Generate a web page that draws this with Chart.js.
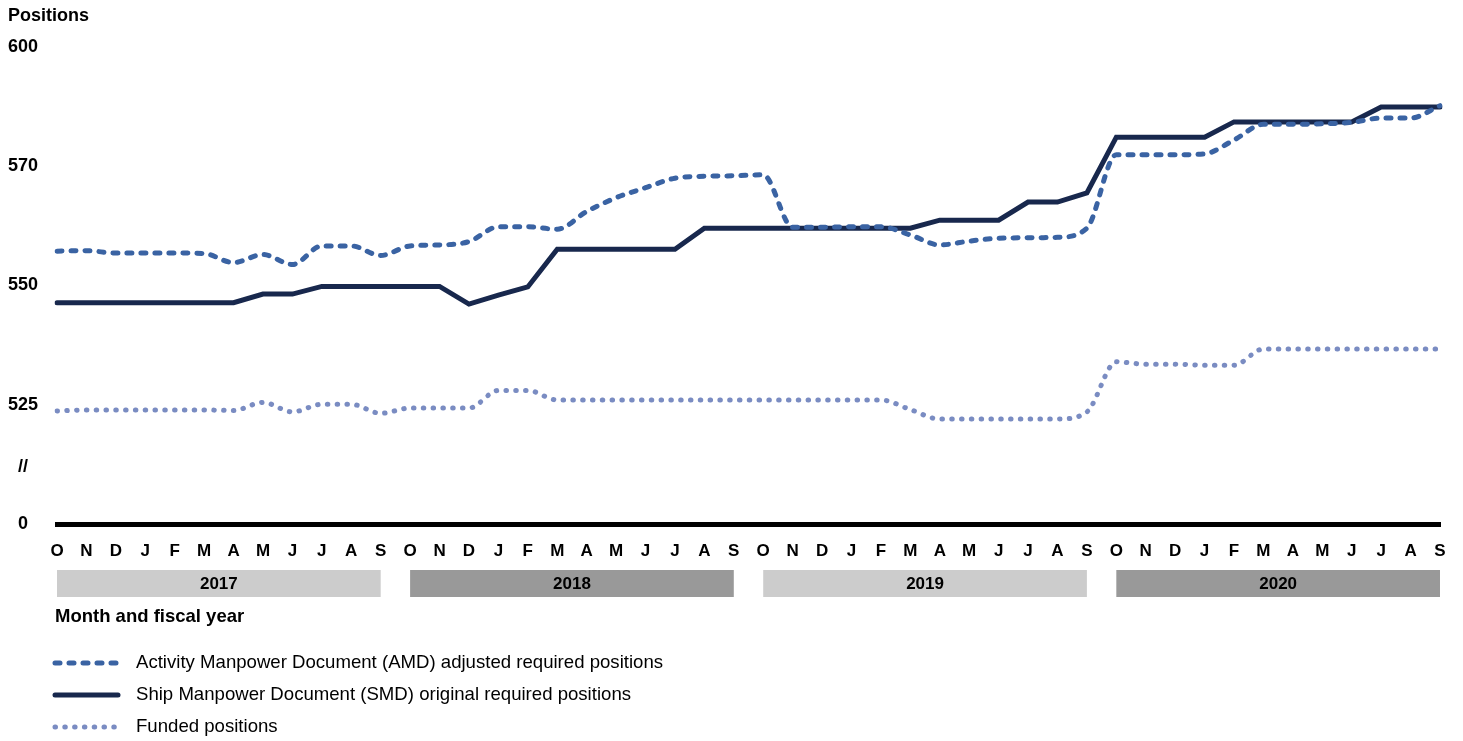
<!DOCTYPE html>
<html>
<head>
<meta charset="utf-8">
<script src="https://cdn.jsdelivr.net/npm/chart.js@4.4.1/dist/chart.umd.min.js"></script>
<style>
    body { margin: 0; background: #ffffff; }
    #wrap { width: 1463px; height: 741px; }
</style>
</head>
<body>
<div id="wrap"><canvas id="lineChart" width="1463" height="741"></canvas></div>
<script>

// months of each fiscal year, Oct to Sep
const months = ["O","N","D","J","F","M","A","M","J","J","A","S"];
const years = ["2017", "2018", "2019", "2020"];

const monthLabels = [];
years.forEach(function () {
    months.forEach(m => monthLabels.push(m));
});

// Activity Manpower Document (AMD) adjusted required positions
const amdValues = [
    557.2, 557.3, 556.8, 556.8, 556.8, 556.7, 554.8, 556.5, 554.4, 558.3, 558.3, 556.3,
    558.3, 558.5, 559.2, 562.3, 562.3, 561.8, 565.5, 568.4, 570.5, 572.5, 572.9, 573.0,
    573.2, 562.2, 562.2, 562.3, 562.3, 560.6, 558.5, 559.3, 559.9, 560.0, 560.1, 562.0,
    577.4, 577.4, 577.4, 577.6, 580.5, 583.8, 583.8, 583.9, 584.2, 585.1, 585.1, 587.7
];

// Ship Manpower Document (SMD) original required positions
const smdValues = [
    546.4, 546.4, 546.4, 546.4, 546.4, 546.4, 546.4, 548.2, 548.2, 549.8, 549.8, 549.8,
    549.8, 549.8, 546.1, 548.0, 549.7, 557.6, 557.6, 557.6, 557.6, 557.6, 562.0, 562.0,
    562.0, 562.0, 562.0, 562.0, 562.0, 562.0, 563.7, 563.7, 563.7, 567.5, 567.5, 569.4,
    581.1, 581.1, 581.1, 581.1, 584.3, 584.3, 584.3, 584.3, 584.3, 587.4, 587.4, 587.4
];

// Funded positions
const fundedValues = [
    523.7, 523.9, 523.9, 523.9, 523.9, 523.9, 523.8, 525.5, 523.5, 525.1, 525.1, 523.2,
    524.3, 524.3, 524.3, 528.0, 528.0, 526.0, 526.0, 526.0, 526.0, 526.0, 526.0, 526.0,
    526.0, 526.0, 526.0, 526.0, 526.0, 524.0, 522.0, 522.0, 522.0, 522.0, 522.0, 523.5,
    534.0, 533.5, 533.5, 533.3, 533.3, 536.7, 536.7, 536.7, 536.7, 536.7, 536.7, 536.7
];

// the axis is broken: the bottom tick stands for 0
const yTickValues = [500, 512, 525, 550, 575, 600];
const yTickLabels = ["0", "//", "525", "550", "570", "600"];

const seriesNames = [
    "Activity Manpower Document (AMD) adjusted required positions",
    "Ship Manpower Document (SMD) original required positions",
    "Funded positions"
];

const FONT = "'Liberation Sans', Arial, sans-serif";

// ==========================
// extra drawing: title, year boxes, axis caption, legend
// ==========================
const extrasPlugin = {
    id: "extras",
    afterDraw: function (chart) {
        const ctx = chart.ctx;
        const x = chart.scales.x;

        ctx.save();
        ctx.fillStyle = "#000";
        ctx.textBaseline = "middle";
        ctx.textAlign = "left";
        ctx.font = "bold 18px " + FONT;
        ctx.fillText("Positions", 8, 16);

        // fiscal year boxes
        years.forEach(function (yr, k) {
            const x1 = x.getPixelForValue(k * 12);
            const x2 = x.getPixelForValue(k * 12 + 11);
            ctx.fillStyle = k % 2 === 0 ? "#cccccc" : "#999999";
            ctx.fillRect(x1, 570, x2 - x1, 27);
            ctx.fillStyle = "#000";
            ctx.textAlign = "center";
            ctx.font = "bold 17px " + FONT;
            ctx.fillText(yr, (x1 + x2) / 2, 584);
        });

        ctx.textAlign = "left";
        ctx.font = "bold 18.5px " + FONT;
        ctx.fillText("Month and fiscal year", 55, 617);

        // legend
        chart.data.datasets.forEach(function (ds, i) {
            const y = 663 + i * 32;
            ctx.beginPath();
            ctx.strokeStyle = ds.borderColor;
            ctx.lineWidth = ds.borderWidth;
            ctx.lineCap = "round";
            ctx.setLineDash(ds.borderDash || []);
            ctx.moveTo(55, y);
            ctx.lineTo(118, y);
            ctx.stroke();
            ctx.setLineDash([]);
            ctx.fillStyle = "#000";
            ctx.font = "18.6px " + FONT;
            ctx.fillText(ds.label, 136, y);
        });
        ctx.restore();
    }
};

new Chart(document.getElementById("lineChart"), {

    type: "line",

    data: {
        labels: monthLabels,
        datasets: [
            {
                label: seriesNames[0],
                data: amdValues,
                borderColor: "#3a63a3",
                borderWidth: 5,
                borderDash: [5, 9],
                borderCapStyle: "round",
                cubicInterpolationMode: "monotone",
                pointRadius: 0
            },
            {
                label: seriesNames[1],
                data: smdValues,
                borderColor: "#18284d",
                borderWidth: 5,
                borderCapStyle: "round",
                borderJoinStyle: "miter",
                tension: 0,
                pointRadius: 0
            },
            {
                label: seriesNames[2],
                data: fundedValues,
                borderColor: "#7a8cc2",
                borderWidth: 5,
                borderDash: [0.5, 9.3],
                borderCapStyle: "round",
                cubicInterpolationMode: "monotone",
                pointRadius: 0
            }
        ]
    },

    options: {
        responsive: false,
        animation: false,
        layout: {
            padding: { left: 0, right: 23, top: 47, bottom: 0 }
        },
        scales: {
            x: {
                grid: { display: false, drawTicks: false },
                border: { display: true, color: "#000", width: 5 },
                ticks: {
                    color: "#000",
                    autoSkip: false,
                    maxRotation: 0,
                    padding: 17,
                    font: { family: FONT, size: 17, weight: "bold" }
                },
                afterFit: function (scale) {
                    scale.height = 217;
                }
            },
            y: {
                min: 500,
                max: 600,
                grid: { display: false, drawTicks: false },
                border: { display: false },
                afterBuildTicks: function (scale) {
                    scale.ticks = yTickValues.map(v => ({ value: v }));
                },
                ticks: {
                    color: "#000",
                    padding: 19,
                    crossAlign: "center",
                    font: { family: FONT, size: 18, weight: "bold" },
                    callback: function (value) {
                        const i = yTickValues.indexOf(value);
                        return i >= 0 ? yTickLabels[i] : "";
                    }
                },
                afterFit: function (scale) {
                    scale.width = 57;
                }
            }
        },
        plugins: {
            legend: { display: false },
            tooltip: { enabled: false }
        }
    },

    plugins: [extrasPlugin]

});
</script>
</body>
</html>
